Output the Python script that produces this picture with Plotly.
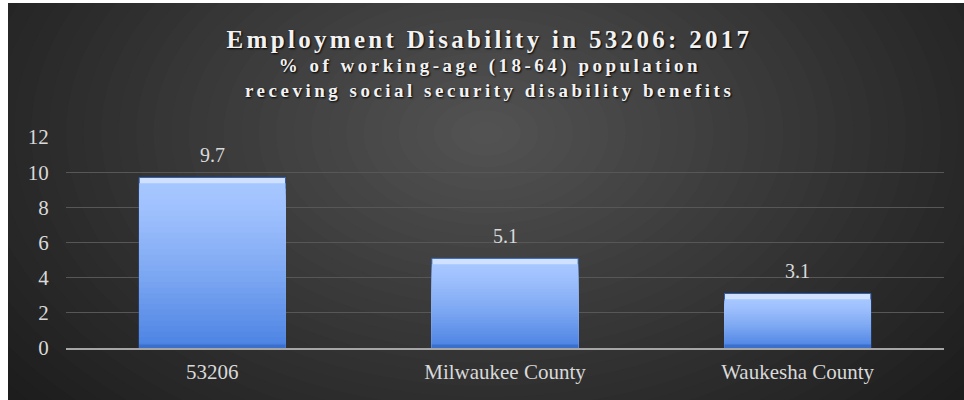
import plotly.graph_objects as go

categories = ["53206", "Milwaukee County", "Waukesha County"]
values = [9.7, 5.1, 3.1]
y_ticks = [0, 2, 4, 6, 8, 10, 12]
title_lines = [
    "Employment Disability in 53206: 2017",
    "% of working-age (18-64) population",
    "receving social security disability benefits",
]

# the page sits 8px in from the left and 3px down, as in the reference
W, H = 956, 397
L, R, T, B = 58, 20, 134, 52
SERIF = "Liberation Serif, Times New Roman, serif"


def mix(c1, c2, t):
    return "#%02x%02x%02x" % tuple(round(a + (b - a) * t) for a, b in zip(c1, c2))


def to_paper(px, py):
    pw, ph = W - L - R, H - T - B
    return (px - L) / pw, (H - B - py) / ph


# radial-ish background built from stacked ellipses
shapes = []
cx, cy = 478, 130
steps = 40
outer, inner = (24, 24, 24), (84, 84, 84)
for i in range(steps):
    f = 1 - i / steps
    rx, ry = 700 * f, 460 * f
    x0, y0 = to_paper(cx - rx, cy + ry)
    x1, y1 = to_paper(cx + rx, cy - ry)
    shapes.append(dict(type="circle", xref="paper", yref="paper",
                       x0=x0, y0=y0, x1=x1, y1=y1, layer="below",
                       line=dict(width=0), fillcolor=mix(outer, inner, (i / steps) ** 1.1)))

fig = go.Figure()

# light top bevel, then vertical gradient from overlaid bars of decreasing height
fig.add_trace(go.Bar(
    x=categories, y=values, width=0.5,
    marker=dict(color="#cfe1ff", line=dict(color="#2f5fae", width=1)),
    hoverinfo="x+y",
))
top, bottom = (166, 198, 255), (72, 128, 226)
n = 30
for k in range(n):
    frac = 1 - k / n
    fig.add_trace(go.Bar(
        x=categories, y=[(v - 0.33) * frac for v in values], width=0.5,
        marker=dict(color=mix(top, bottom, (k / n) ** 1.3), line=dict(width=0)),
        hoverinfo="skip",
    ))
fig.add_trace(go.Bar(
    x=categories, y=[0.2] * len(values), width=0.5,
    marker=dict(color="#3a70cc", line=dict(width=0)), hoverinfo="skip",
))

annotations = []
for i, v in enumerate(values):
    annotations.append(dict(x=i, y=v, text=f"{v:.1f}", showarrow=False,
                            yanchor="middle", yshift=22,
                            font=dict(family=SERIF, size=20, color="#d9d9d9")))
for line, py, size in zip(title_lines, [36, 62.5, 87.5], [25, 19, 19]):
    ax, ay = to_paper(W / 2 + 3.5, py)
    annotations.append(dict(x=ax, y=ay, xref="paper", yref="paper",
                            text=f"<b>{line}</b>", showarrow=False,
                            xanchor="center", yanchor="middle",
                            font=dict(family=SERIF, size=size, color="#f2f2f2",
                                      shadow="1px 1px 2px #000")))

fig.update_layout(
    width=W, height=H,
    barmode="overlay",
    showlegend=False,
    paper_bgcolor="#1a1a1a",
    plot_bgcolor="rgba(0,0,0,0)",
    margin=dict(l=L, r=R, t=T, b=B),
    shapes=shapes,
    annotations=annotations,
)

fig.update_yaxes(
    range=[0, 12], tickvals=y_ticks,
    showgrid=True, gridcolor="#575757", gridwidth=1,
    zeroline=False, showline=False,
    ticks="outside", ticklen=12, tickcolor="rgba(0,0,0,0)",
    tickfont=dict(family=SERIF, size=21, color="#d9d9d9"),
)

fig.update_xaxes(
    type="category", range=[-0.5, len(categories) - 0.5],
    showgrid=False, showline=True, linecolor="#a6a6a6", linewidth=2,
    ticks="outside", ticklen=4, tickcolor="rgba(0,0,0,0)",
    tickfont=dict(family=SERIF, size=21, color="#d9d9d9"),
)

# page offset, expanded letter spacing on the title lines
js = """
document.body.style.margin = '3px 0 0 8px';
document.querySelectorAll('.annotation-text').forEach(function (t) {
    var s = t.textContent;
    if (s.indexOf('Employment') === 0) t.style.letterSpacing = '3.3px';
    else if (s.length > 20) t.style.letterSpacing = '3.5px';
});
"""
fig.write_html("out.html", post_script=js, config={"displayModeBar": False})
